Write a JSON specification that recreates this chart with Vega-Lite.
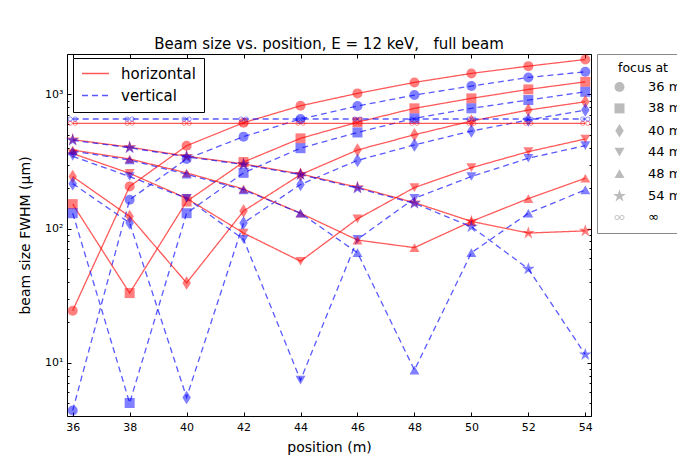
{
  "$schema": "https://vega.github.io/schema/vega-lite/v6.json",
  "width": 524,
  "height": 362,
  "autosize": {"type": "none"},
  "padding": {"left": 67, "top": 54, "right": 86, "bottom": 41},
  "title": {"text": "Beam size vs. position, E = 12 keV,\u00a0\u00a0\u00a0full beam", "fontSize": 15, "fontWeight": "normal", "font": "DejaVu Sans", "offset": 2, "color": "#000"},
  "config": {
    "font": "DejaVu Sans",
    "view": {"stroke": "#000", "strokeWidth": 1},
    "axis": {"grid": false, "domain": false, "tickColor": "#000", "labelColor": "#000", "titleColor": "#000", "labelFontSize": 11, "titleFontSize": 14, "titleFontWeight": "normal", "labelFont": "DejaVu Sans", "titleFont": "DejaVu Sans"},
    "legend": {"labelFont": "DejaVu Sans", "titleFont": "DejaVu Sans", "labelColor": "#000", "titleColor": "#000"}
  },
  "data": {"values": [
    {"pos":36,"focus":"36 m","orient":"horizontal","size":24.4},{"pos":38,"focus":"36 m","orient":"horizontal","size":206},{"pos":40,"focus":"36 m","orient":"horizontal","size":414},{"pos":42,"focus":"36 m","orient":"horizontal","size":615},{"pos":44,"focus":"36 m","orient":"horizontal","size":822},{"pos":46,"focus":"36 m","orient":"horizontal","size":1017},{"pos":48,"focus":"36 m","orient":"horizontal","size":1228},{"pos":50,"focus":"36 m","orient":"horizontal","size":1433},{"pos":52,"focus":"36 m","orient":"horizontal","size":1624},{"pos":54,"focus":"36 m","orient":"horizontal","size":1820},
    {"pos":36,"focus":"36 m","orient":"vertical","size":4.4},{"pos":38,"focus":"36 m","orient":"vertical","size":164},{"pos":40,"focus":"36 m","orient":"vertical","size":330},{"pos":42,"focus":"36 m","orient":"vertical","size":484},{"pos":44,"focus":"36 m","orient":"vertical","size":655},{"pos":46,"focus":"36 m","orient":"vertical","size":819},{"pos":48,"focus":"36 m","orient":"vertical","size":988},{"pos":50,"focus":"36 m","orient":"vertical","size":1153},{"pos":52,"focus":"36 m","orient":"vertical","size":1337},{"pos":54,"focus":"36 m","orient":"vertical","size":1473},
    {"pos":36,"focus":"38 m","orient":"horizontal","size":152},{"pos":38,"focus":"38 m","orient":"horizontal","size":33},{"pos":40,"focus":"38 m","orient":"horizontal","size":159},{"pos":42,"focus":"38 m","orient":"horizontal","size":313},{"pos":44,"focus":"38 m","orient":"horizontal","size":470},{"pos":46,"focus":"38 m","orient":"horizontal","size":620},{"pos":48,"focus":"38 m","orient":"horizontal","size":787},{"pos":50,"focus":"38 m","orient":"horizontal","size":934},{"pos":52,"focus":"38 m","orient":"horizontal","size":1089},{"pos":54,"focus":"38 m","orient":"horizontal","size":1241},
    {"pos":36,"focus":"38 m","orient":"vertical","size":130},{"pos":38,"focus":"38 m","orient":"vertical","size":5.0},{"pos":40,"focus":"38 m","orient":"vertical","size":130},{"pos":42,"focus":"38 m","orient":"vertical","size":260},{"pos":44,"focus":"38 m","orient":"vertical","size":397},{"pos":46,"focus":"38 m","orient":"vertical","size":520},{"pos":48,"focus":"38 m","orient":"vertical","size":663},{"pos":50,"focus":"38 m","orient":"vertical","size":787},{"pos":52,"focus":"38 m","orient":"vertical","size":907},{"pos":54,"focus":"38 m","orient":"vertical","size":1045},
    {"pos":36,"focus":"40 m","orient":"horizontal","size":244},{"pos":38,"focus":"40 m","orient":"horizontal","size":123},{"pos":40,"focus":"40 m","orient":"horizontal","size":39.3},{"pos":42,"focus":"40 m","orient":"horizontal","size":135},{"pos":44,"focus":"40 m","orient":"horizontal","size":252},{"pos":46,"focus":"40 m","orient":"horizontal","size":385},{"pos":48,"focus":"40 m","orient":"horizontal","size":500},{"pos":50,"focus":"40 m","orient":"horizontal","size":633},{"pos":52,"focus":"40 m","orient":"horizontal","size":764},{"pos":54,"focus":"40 m","orient":"horizontal","size":881},
    {"pos":36,"focus":"40 m","orient":"vertical","size":216},{"pos":38,"focus":"40 m","orient":"vertical","size":110},{"pos":40,"focus":"40 m","orient":"vertical","size":5.5},{"pos":42,"focus":"40 m","orient":"vertical","size":110},{"pos":44,"focus":"40 m","orient":"vertical","size":213},{"pos":46,"focus":"40 m","orient":"vertical","size":322},{"pos":48,"focus":"40 m","orient":"vertical","size":420},{"pos":50,"focus":"40 m","orient":"vertical","size":533},{"pos":52,"focus":"40 m","orient":"vertical","size":644},{"pos":54,"focus":"40 m","orient":"vertical","size":764},
    {"pos":36,"focus":"44 m","orient":"horizontal","size":362},{"pos":38,"focus":"44 m","orient":"horizontal","size":258},{"pos":40,"focus":"44 m","orient":"horizontal","size":168},{"pos":42,"focus":"44 m","orient":"horizontal","size":92.5},{"pos":44,"focus":"44 m","orient":"horizontal","size":57},{"pos":46,"focus":"44 m","orient":"horizontal","size":118},{"pos":48,"focus":"44 m","orient":"horizontal","size":202},{"pos":50,"focus":"44 m","orient":"horizontal","size":284},{"pos":52,"focus":"44 m","orient":"horizontal","size":374},{"pos":54,"focus":"44 m","orient":"horizontal","size":465},
    {"pos":36,"focus":"44 m","orient":"vertical","size":345},{"pos":38,"focus":"44 m","orient":"vertical","size":244},{"pos":40,"focus":"44 m","orient":"vertical","size":168},{"pos":42,"focus":"44 m","orient":"vertical","size":83},{"pos":44,"focus":"44 m","orient":"vertical","size":7.4},{"pos":46,"focus":"44 m","orient":"vertical","size":83},{"pos":48,"focus":"44 m","orient":"vertical","size":168},{"pos":50,"focus":"44 m","orient":"vertical","size":244},{"pos":52,"focus":"44 m","orient":"vertical","size":334},{"pos":54,"focus":"44 m","orient":"vertical","size":415},
    {"pos":36,"focus":"48 m","orient":"horizontal","size":385},{"pos":38,"focus":"48 m","orient":"horizontal","size":330},{"pos":40,"focus":"48 m","orient":"horizontal","size":260},{"pos":42,"focus":"48 m","orient":"horizontal","size":197},{"pos":44,"focus":"48 m","orient":"horizontal","size":130},{"pos":46,"focus":"48 m","orient":"horizontal","size":82},{"pos":48,"focus":"48 m","orient":"horizontal","size":72},{"pos":50,"focus":"48 m","orient":"horizontal","size":113},{"pos":52,"focus":"48 m","orient":"horizontal","size":167},{"pos":54,"focus":"48 m","orient":"horizontal","size":237},
    {"pos":36,"focus":"48 m","orient":"vertical","size":378},{"pos":38,"focus":"48 m","orient":"vertical","size":324},{"pos":40,"focus":"48 m","orient":"vertical","size":254},{"pos":42,"focus":"48 m","orient":"vertical","size":194},{"pos":44,"focus":"48 m","orient":"vertical","size":130},{"pos":46,"focus":"48 m","orient":"vertical","size":66},{"pos":48,"focus":"48 m","orient":"vertical","size":8.8},{"pos":50,"focus":"48 m","orient":"vertical","size":66},{"pos":52,"focus":"48 m","orient":"vertical","size":130},{"pos":54,"focus":"48 m","orient":"vertical","size":194},
    {"pos":36,"focus":"54 m","orient":"horizontal","size":460},{"pos":38,"focus":"54 m","orient":"horizontal","size":404},{"pos":40,"focus":"54 m","orient":"horizontal","size":346},{"pos":42,"focus":"54 m","orient":"horizontal","size":303},{"pos":44,"focus":"54 m","orient":"horizontal","size":255},{"pos":46,"focus":"54 m","orient":"horizontal","size":203},{"pos":48,"focus":"54 m","orient":"horizontal","size":156},{"pos":50,"focus":"54 m","orient":"horizontal","size":113},{"pos":52,"focus":"54 m","orient":"horizontal","size":92.5},{"pos":54,"focus":"54 m","orient":"horizontal","size":96},
    {"pos":36,"focus":"54 m","orient":"vertical","size":455},{"pos":38,"focus":"54 m","orient":"vertical","size":400},{"pos":40,"focus":"54 m","orient":"vertical","size":342},{"pos":42,"focus":"54 m","orient":"vertical","size":300},{"pos":44,"focus":"54 m","orient":"vertical","size":252},{"pos":46,"focus":"54 m","orient":"vertical","size":200},{"pos":48,"focus":"54 m","orient":"vertical","size":154},{"pos":50,"focus":"54 m","orient":"vertical","size":103},{"pos":52,"focus":"54 m","orient":"vertical","size":50},{"pos":54,"focus":"54 m","orient":"vertical","size":11.5},
    {"pos":36,"focus":"∞","orient":"horizontal","size":608},{"pos":38,"focus":"∞","orient":"horizontal","size":608},{"pos":40,"focus":"∞","orient":"horizontal","size":608},{"pos":42,"focus":"∞","orient":"horizontal","size":608},{"pos":44,"focus":"∞","orient":"horizontal","size":608},{"pos":46,"focus":"∞","orient":"horizontal","size":608},{"pos":48,"focus":"∞","orient":"horizontal","size":608},{"pos":50,"focus":"∞","orient":"horizontal","size":608},{"pos":52,"focus":"∞","orient":"horizontal","size":608},{"pos":54,"focus":"∞","orient":"horizontal","size":608},
    {"pos":36,"focus":"∞","orient":"vertical","size":655},{"pos":38,"focus":"∞","orient":"vertical","size":655},{"pos":40,"focus":"∞","orient":"vertical","size":655},{"pos":42,"focus":"∞","orient":"vertical","size":655},{"pos":44,"focus":"∞","orient":"vertical","size":655},{"pos":46,"focus":"∞","orient":"vertical","size":655},{"pos":48,"focus":"∞","orient":"vertical","size":655},{"pos":50,"focus":"∞","orient":"vertical","size":655},{"pos":52,"focus":"∞","orient":"vertical","size":655},{"pos":54,"focus":"∞","orient":"vertical","size":655}
  ]},
  "resolve": {"axis": {"x": "independent", "y": "independent"}},
  "layer": [
    {
      "mark": {"type": "line", "strokeWidth": 1.3, "opacity": 0.65},
      "encoding": {
        "x": {"field": "pos", "type": "quantitative", "scale": {"domain": [35.8, 54.2], "nice": false, "zero": false},
              "axis": {"orient": "bottom", "title": "position (m)", "values": [36,38,40,42,44,46,48,50,52,54], "tickSize": -4, "labelPadding": 9, "titlePadding": 8}},
        "y": {"field": "size", "type": "quantitative", "scale": {"type": "log", "domain": [4, 2000], "nice": false},
              "axis": {"orient": "left", "title": "beam size FWHM (µm)", "values": [4,5,6,7,8,9,10,20,30,40,50,60,70,80,90,100,200,300,400,500,600,700,800,900,1000,2000],
                       "tickSize": {"condition": {"test": "datum.value == 10 || datum.value == 100 || datum.value == 1000", "value": -4}, "value": -2},
                       "labelExpr": "datum.value == 1000 ? '10³' : datum.value == 100 ? '10²' : datum.value == 10 ? '10¹' : ''",
                       "labelPadding": 8, "titlePadding": 12}},
        "detail": {"field": "focus"},
        "stroke": {"field": "orient", "type": "nominal", "scale": {"domain": ["horizontal", "vertical"], "range": ["#ff0000", "#0000ff"]},
                   "legend": {"title": null, "orient": "none", "legendX": 6, "legendY": 4, "strokeColor": "#000", "fillColor": "#fff", "padding": 8, "labelFontSize": 15, "symbolType": "stroke", "symbolSize": 729, "symbolStrokeWidth": 1.3, "clipHeight": 15, "rowPadding": 6, "labelOffset": 11}},
        "strokeDash": {"field": "orient", "type": "nominal", "scale": {"domain": ["horizontal", "vertical"], "range": [[1, 0], [6, 4]]},
                   "legend": {"title": null, "orient": "none", "legendX": 6, "legendY": 4, "strokeColor": "#000", "fillColor": "#fff", "padding": 8, "labelFontSize": 15, "symbolType": "stroke", "symbolSize": 729, "symbolStrokeWidth": 1.3, "clipHeight": 15, "rowPadding": 6, "labelOffset": 11}}
      }
    },
    {
      "mark": {"type": "point", "filled": true, "opacity": 0.5, "size": 100, "strokeWidth": 0},
      "encoding": {
        "x": {"field": "pos", "type": "quantitative", "axis": null},
        "y": {"field": "size", "type": "quantitative", "axis": null},
        "fill": {"field": "orient", "type": "nominal", "scale": {"domain": ["horizontal", "vertical"], "range": ["#ff0000", "#0000ff"]}, "legend": null},
        "shape": {"field": "focus", "type": "nominal",
                  "scale": {"domain": ["36 m", "38 m", "40 m", "44 m", "48 m", "54 m", "∞"],
                            "range": ["circle", "square", "M0,-1.35L0.85,0L0,1.35L-0.85,0Z", "triangle-down", "triangle-up",
                                      "M0,-1.35L0.304,-0.417L1.284,-0.417L0.49,0.159L0.794,1.092L0,0.516L-0.794,1.092L-0.49,0.159L-1.284,-0.417L-0.304,-0.417Z",
                                      "M-1,0A0.5,0.5 0 1,1 0,0A0.5,0.5 0 1,1 -1,0ZM-0.83,0A0.33,0.33 0 1,0 -0.17,0A0.33,0.33 0 1,0 -0.83,0ZM0,0A0.5,0.5 0 1,1 1,0A0.5,0.5 0 1,1 0,0ZM0.17,0A0.33,0.33 0 1,0 0.83,0A0.33,0.33 0 1,0 0.17,0Z"]},
                  "legend": {"title": "focus at", "orient": "none", "legendX": 530, "legendY": 0, "strokeColor": "#888", "fillColor": "#fff", "padding": 8,
                             "titleFontSize": 12.5, "titleFontWeight": "normal", "titleAnchor": "middle", "titlePadding": 6,
                             "labelFontSize": 13, "symbolFillColor": "#bbbbbb", "symbolStrokeWidth": 0, "symbolOpacity": 1, "symbolSize": 100,
                             "symbolOffset": 8, "labelOffset": 22, "rowPadding": 7.4}}
      }
    },
    {
      "mark": {"type": "point", "opacity": 0},
      "encoding": {
        "x": {"field": "pos", "type": "quantitative", "axis": {"orient": "top", "title": null, "labels": false, "values": [36,38,40,42,44,46,48,50,52,54], "tickSize": -4}},
        "y": {"field": "size", "type": "quantitative",
              "axis": {"orient": "right", "title": null, "labels": false, "values": [4,5,6,7,8,9,10,20,30,40,50,60,70,80,90,100,200,300,400,500,600,700,800,900,1000,2000],
                       "tickSize": {"condition": {"test": "datum.value == 10 || datum.value == 100 || datum.value == 1000", "value": -4}, "value": -2}}}
      }
    }
  ]
}
